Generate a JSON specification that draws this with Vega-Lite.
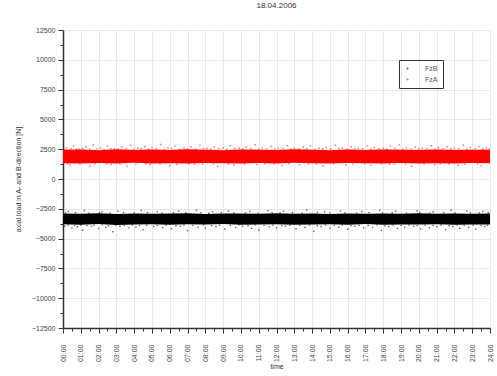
{
  "$schema": "https://vega.github.io/schema/vega-lite/v6.json",
  "width": 427,
  "height": 298,
  "autosize": {"type": "none"},
  "padding": {"left": 63, "top": 30, "right": 7, "bottom": 48},
  "background": "white",
  "title": {"text": "18.04.2006", "fontSize": 8, "fontWeight": "normal", "color": "#333", "font": "Liberation Sans", "offset": 16},
  "config": {"view": {"stroke": null}, "axis": {"labelFont": "Liberation Sans", "titleFont": "Liberation Sans", "labelColor": "#444", "titleColor": "#333", "labelFontSize": 7, "titleFontSize": 7, "titleFontWeight": "normal", "tickColor": "#333", "domainColor": "#333"}},
  "datasets": {
    "band": [
      {"s":"FzA","t":0,"lo":1320,"hi":2450},{"s":"FzA","t":1,"lo":1300,"hi":2480},{"s":"FzA","t":2,"lo":1340,"hi":2420},{"s":"FzA","t":3,"lo":1290,"hi":2500},{"s":"FzA","t":4,"lo":1360,"hi":2440},{"s":"FzA","t":5,"lo":1310,"hi":2470},{"s":"FzA","t":6,"lo":1330,"hi":2430},{"s":"FzA","t":7,"lo":1300,"hi":2490},{"s":"FzA","t":8,"lo":1350,"hi":2450},{"s":"FzA","t":9,"lo":1320,"hi":2420},{"s":"FzA","t":10,"lo":1290,"hi":2480},{"s":"FzA","t":11,"lo":1340,"hi":2460},{"s":"FzA","t":12,"lo":1310,"hi":2430},{"s":"FzA","t":13,"lo":1360,"hi":2490},{"s":"FzA","t":14,"lo":1320,"hi":2450},{"s":"FzA","t":15,"lo":1300,"hi":2420},{"s":"FzA","t":16,"lo":1340,"hi":2470},{"s":"FzA","t":17,"lo":1320,"hi":2440},{"s":"FzA","t":18,"lo":1290,"hi":2480},{"s":"FzA","t":19,"lo":1350,"hi":2450},{"s":"FzA","t":20,"lo":1310,"hi":2430},{"s":"FzA","t":21,"lo":1330,"hi":2470},{"s":"FzA","t":22,"lo":1300,"hi":2440},{"s":"FzA","t":23,"lo":1340,"hi":2460},{"s":"FzA","t":24,"lo":1320,"hi":2450},
      {"s":"FzB","t":0,"lo":-3800,"hi":-2900},{"s":"FzB","t":1,"lo":-3830,"hi":-2920},{"s":"FzB","t":2,"lo":-3780,"hi":-2880},{"s":"FzB","t":3,"lo":-3850,"hi":-2940},{"s":"FzB","t":4,"lo":-3810,"hi":-2890},{"s":"FzB","t":5,"lo":-3790,"hi":-2920},{"s":"FzB","t":6,"lo":-3840,"hi":-2900},{"s":"FzB","t":7,"lo":-3800,"hi":-2870},{"s":"FzB","t":8,"lo":-3820,"hi":-2930},{"s":"FzB","t":9,"lo":-3780,"hi":-2900},{"s":"FzB","t":10,"lo":-3830,"hi":-2890},{"s":"FzB","t":11,"lo":-3810,"hi":-2920},{"s":"FzB","t":12,"lo":-3790,"hi":-2880},{"s":"FzB","t":13,"lo":-3840,"hi":-2910},{"s":"FzB","t":14,"lo":-3820,"hi":-2900},{"s":"FzB","t":15,"lo":-3800,"hi":-2930},{"s":"FzB","t":16,"lo":-3830,"hi":-2890},{"s":"FzB","t":17,"lo":-3780,"hi":-2910},{"s":"FzB","t":18,"lo":-3840,"hi":-2900},{"s":"FzB","t":19,"lo":-3810,"hi":-2920},{"s":"FzB","t":20,"lo":-3820,"hi":-2880},{"s":"FzB","t":21,"lo":-3790,"hi":-2910},{"s":"FzB","t":22,"lo":-3830,"hi":-2900},{"s":"FzB","t":23,"lo":-3810,"hi":-2920},{"s":"FzB","t":24,"lo":-3820,"hi":-2900}
    ],
    "pts": [
      {"s":"FzA","t":0.2,"v":2620},{"s":"FzA","t":0.6,"v":2780},{"s":"FzA","t":0.9,"v":2550},{"s":"FzA","t":1.3,"v":2700},{"s":"FzA","t":1.7,"v":2880},{"s":"FzA","t":2.1,"v":2600},{"s":"FzA","t":2.5,"v":2750},{"s":"FzA","t":2.9,"v":2560},{"s":"FzA","t":3.3,"v":2690},{"s":"FzA","t":3.8,"v":2820},{"s":"FzA","t":4.2,"v":2580},{"s":"FzA","t":4.6,"v":2720},{"s":"FzA","t":5.0,"v":2650},{"s":"FzA","t":5.5,"v":2900},{"s":"FzA","t":5.9,"v":2600},{"s":"FzA","t":6.3,"v":2760},{"s":"FzA","t":6.8,"v":2580},{"s":"FzA","t":7.2,"v":2680},{"s":"FzA","t":7.7,"v":2840},{"s":"FzA","t":8.1,"v":2560},{"s":"FzA","t":8.5,"v":2700},{"s":"FzA","t":9.0,"v":2620},{"s":"FzA","t":9.4,"v":2790},{"s":"FzA","t":9.9,"v":2580},{"s":"FzA","t":10.3,"v":2660},{"s":"FzA","t":10.8,"v":2870},{"s":"FzA","t":11.2,"v":2590},{"s":"FzA","t":11.7,"v":2730},{"s":"FzA","t":12.1,"v":2610},{"s":"FzA","t":12.6,"v":2800},{"s":"FzA","t":13.0,"v":2570},{"s":"FzA","t":13.5,"v":2690},{"s":"FzA","t":13.9,"v":2760},{"s":"FzA","t":14.4,"v":2580},{"s":"FzA","t":14.8,"v":2650},{"s":"FzA","t":15.3,"v":2830},{"s":"FzA","t":15.7,"v":2600},{"s":"FzA","t":16.2,"v":2710},{"s":"FzA","t":16.6,"v":2560},{"s":"FzA","t":17.1,"v":2780},{"s":"FzA","t":17.5,"v":2640},{"s":"FzA","t":18.0,"v":2590},{"s":"FzA","t":18.4,"v":2740},{"s":"FzA","t":18.9,"v":2860},{"s":"FzA","t":19.3,"v":2600},{"s":"FzA","t":19.8,"v":2680},{"s":"FzA","t":20.2,"v":2570},{"s":"FzA","t":20.7,"v":2790},{"s":"FzA","t":21.1,"v":2620},{"s":"FzA","t":21.6,"v":2700},{"s":"FzA","t":22.0,"v":2560},{"s":"FzA","t":22.5,"v":2850},{"s":"FzA","t":22.9,"v":2640},{"s":"FzA","t":23.4,"v":2720},{"s":"FzA","t":23.8,"v":2590},
      {"s":"FzA","t":0.1,"v":2500},{"s":"FzA","t":0.45,"v":2540},{"s":"FzA","t":0.75,"v":2490},{"s":"FzA","t":1.1,"v":2560},{"s":"FzA","t":1.5,"v":2510},{"s":"FzA","t":1.9,"v":2530},{"s":"FzA","t":2.3,"v":2480},{"s":"FzA","t":2.7,"v":2550},{"s":"FzA","t":3.1,"v":2520},{"s":"FzA","t":3.55,"v":2570},{"s":"FzA","t":4.0,"v":2490},{"s":"FzA","t":4.4,"v":2540},{"s":"FzA","t":4.8,"v":2510},{"s":"FzA","t":5.25,"v":2560},{"s":"FzA","t":5.7,"v":2500},{"s":"FzA","t":6.1,"v":2530},{"s":"FzA","t":6.55,"v":2490},{"s":"FzA","t":7.0,"v":2550},{"s":"FzA","t":7.45,"v":2520},{"s":"FzA","t":7.9,"v":2570},{"s":"FzA","t":8.3,"v":2500},{"s":"FzA","t":8.75,"v":2540},{"s":"FzA","t":9.2,"v":2480},{"s":"FzA","t":9.65,"v":2560},{"s":"FzA","t":10.1,"v":2520},{"s":"FzA","t":10.55,"v":2540},{"s":"FzA","t":11.0,"v":2500},{"s":"FzA","t":11.45,"v":2550},{"s":"FzA","t":11.9,"v":2510},{"s":"FzA","t":12.35,"v":2570},{"s":"FzA","t":12.8,"v":2490},{"s":"FzA","t":13.25,"v":2530},{"s":"FzA","t":13.7,"v":2550},{"s":"FzA","t":14.15,"v":2500},{"s":"FzA","t":14.6,"v":2540},{"s":"FzA","t":15.05,"v":2510},{"s":"FzA","t":15.5,"v":2560},{"s":"FzA","t":15.95,"v":2490},{"s":"FzA","t":16.4,"v":2530},{"s":"FzA","t":16.85,"v":2550},{"s":"FzA","t":17.3,"v":2500},{"s":"FzA","t":17.75,"v":2540},{"s":"FzA","t":18.2,"v":2520},{"s":"FzA","t":18.65,"v":2560},{"s":"FzA","t":19.1,"v":2490},{"s":"FzA","t":19.55,"v":2530},{"s":"FzA","t":20.0,"v":2510},{"s":"FzA","t":20.45,"v":2550},{"s":"FzA","t":20.9,"v":2500},{"s":"FzA","t":21.35,"v":2570},{"s":"FzA","t":21.8,"v":2520},{"s":"FzA","t":22.25,"v":2540},{"s":"FzA","t":22.7,"v":2490},{"s":"FzA","t":23.15,"v":2550},{"s":"FzA","t":23.6,"v":2510},{"s":"FzA","t":23.95,"v":2530},
      {"s":"FzA","t":0.4,"v":1180},{"s":"FzA","t":1.5,"v":1100},{"s":"FzA","t":2.7,"v":1220},{"s":"FzA","t":3.6,"v":1080},{"s":"FzA","t":4.9,"v":1190},{"s":"FzA","t":6.0,"v":1130},{"s":"FzA","t":7.4,"v":1240},{"s":"FzA","t":8.7,"v":1060},{"s":"FzA","t":9.6,"v":1170},{"s":"FzA","t":10.9,"v":1210},{"s":"FzA","t":12.3,"v":1120},{"s":"FzA","t":13.3,"v":1200},{"s":"FzA","t":14.6,"v":1090},{"s":"FzA","t":15.9,"v":1180},{"s":"FzA","t":17.3,"v":1140},{"s":"FzA","t":18.6,"v":1230},{"s":"FzA","t":19.6,"v":1070},{"s":"FzA","t":20.9,"v":1190},{"s":"FzA","t":22.2,"v":1150},{"s":"FzA","t":23.5,"v":1100},
      {"s":"FzA","t":0.25,"v":1270},{"s":"FzA","t":0.95,"v":1250},{"s":"FzA","t":1.8,"v":1280},{"s":"FzA","t":2.45,"v":1240},{"s":"FzA","t":3.2,"v":1270},{"s":"FzA","t":4.1,"v":1250},{"s":"FzA","t":4.65,"v":1280},{"s":"FzA","t":5.45,"v":1260},{"s":"FzA","t":6.4,"v":1240},{"s":"FzA","t":7.1,"v":1270},{"s":"FzA","t":7.85,"v":1250},{"s":"FzA","t":8.45,"v":1280},{"s":"FzA","t":9.3,"v":1260},{"s":"FzA","t":10.2,"v":1240},{"s":"FzA","t":11.35,"v":1270},{"s":"FzA","t":11.85,"v":1250},{"s":"FzA","t":12.7,"v":1280},{"s":"FzA","t":13.8,"v":1260},{"s":"FzA","t":14.25,"v":1240},{"s":"FzA","t":15.2,"v":1270},{"s":"FzA","t":16.3,"v":1250},{"s":"FzA","t":16.95,"v":1280},{"s":"FzA","t":17.9,"v":1260},{"s":"FzA","t":18.35,"v":1240},{"s":"FzA","t":19.25,"v":1270},{"s":"FzA","t":20.3,"v":1250},{"s":"FzA","t":21.2,"v":1280},{"s":"FzA","t":21.7,"v":1260},{"s":"FzA","t":22.6,"v":1240},{"s":"FzA","t":23.3,"v":1270},
      {"s":"FzB","t":0.3,"v":-2720},{"s":"FzB","t":1.2,"v":-2660},{"s":"FzB","t":2.2,"v":-2760},{"s":"FzB","t":3.1,"v":-2700},{"s":"FzB","t":4.4,"v":-2640},{"s":"FzB","t":5.3,"v":-2740},{"s":"FzB","t":6.5,"v":-2690},{"s":"FzB","t":7.5,"v":-2620},{"s":"FzB","t":8.4,"v":-2750},{"s":"FzB","t":9.3,"v":-2680},{"s":"FzB","t":10.5,"v":-2730},{"s":"FzB","t":11.5,"v":-2650},{"s":"FzB","t":12.4,"v":-2710},{"s":"FzB","t":13.7,"v":-2600},{"s":"FzB","t":14.7,"v":-2740},{"s":"FzB","t":15.6,"v":-2670},{"s":"FzB","t":16.8,"v":-2720},{"s":"FzB","t":17.8,"v":-2640},{"s":"FzB","t":18.7,"v":-2700},{"s":"FzB","t":19.9,"v":-2660},{"s":"FzB","t":20.8,"v":-2750},{"s":"FzB","t":21.8,"v":-2620},{"s":"FzB","t":22.7,"v":-2690},{"s":"FzB","t":23.6,"v":-2730},
      {"s":"FzB","t":0.15,"v":-2850},{"s":"FzB","t":0.7,"v":-2820},{"s":"FzB","t":1.45,"v":-2860},{"s":"FzB","t":2.05,"v":-2830},{"s":"FzB","t":2.65,"v":-2870},{"s":"FzB","t":3.4,"v":-2810},{"s":"FzB","t":4.0,"v":-2850},{"s":"FzB","t":4.75,"v":-2830},{"s":"FzB","t":5.55,"v":-2860},{"s":"FzB","t":6.2,"v":-2820},{"s":"FzB","t":6.9,"v":-2850},{"s":"FzB","t":7.75,"v":-2830},{"s":"FzB","t":8.2,"v":-2870},{"s":"FzB","t":8.9,"v":-2810},{"s":"FzB","t":9.6,"v":-2850},{"s":"FzB","t":10.25,"v":-2830},{"s":"FzB","t":10.95,"v":-2860},{"s":"FzB","t":11.75,"v":-2820},{"s":"FzB","t":12.2,"v":-2850},{"s":"FzB","t":12.9,"v":-2830},{"s":"FzB","t":13.45,"v":-2870},{"s":"FzB","t":14.3,"v":-2810},{"s":"FzB","t":15.0,"v":-2850},{"s":"FzB","t":15.85,"v":-2830},{"s":"FzB","t":16.5,"v":-2860},{"s":"FzB","t":17.2,"v":-2820},{"s":"FzB","t":17.95,"v":-2850},{"s":"FzB","t":18.5,"v":-2830},{"s":"FzB","t":19.3,"v":-2870},{"s":"FzB","t":20.05,"v":-2810},{"s":"FzB","t":20.6,"v":-2850},{"s":"FzB","t":21.4,"v":-2830},{"s":"FzB","t":22.05,"v":-2860},{"s":"FzB","t":22.9,"v":-2820},{"s":"FzB","t":23.4,"v":-2850},{"s":"FzB","t":23.9,"v":-2830},
      {"s":"FzB","t":0.1,"v":-3950},{"s":"FzB","t":0.5,"v":-4120},{"s":"FzB","t":0.8,"v":-4010},{"s":"FzB","t":1.1,"v":-4300},{"s":"FzB","t":1.6,"v":-3980},{"s":"FzB","t":2.0,"v":-4150},{"s":"FzB","t":2.4,"v":-4050},{"s":"FzB","t":2.8,"v":-4420},{"s":"FzB","t":3.2,"v":-3970},{"s":"FzB","t":3.7,"v":-4100},{"s":"FzB","t":4.1,"v":-4020},{"s":"FzB","t":4.5,"v":-4250},{"s":"FzB","t":5.1,"v":-3990},{"s":"FzB","t":5.6,"v":-4080},{"s":"FzB","t":6.1,"v":-4180},{"s":"FzB","t":6.6,"v":-3960},{"s":"FzB","t":7.0,"v":-4330},{"s":"FzB","t":7.6,"v":-4040},{"s":"FzB","t":8.0,"v":-4110},{"s":"FzB","t":8.6,"v":-3980},{"s":"FzB","t":9.1,"v":-4200},{"s":"FzB","t":9.7,"v":-4060},{"s":"FzB","t":10.1,"v":-3970},{"s":"FzB","t":10.6,"v":-4140},{"s":"FzB","t":11.0,"v":-4280},{"s":"FzB","t":11.6,"v":-4010},{"s":"FzB","t":12.0,"v":-4090},{"s":"FzB","t":12.5,"v":-3960},{"s":"FzB","t":13.1,"v":-4170},{"s":"FzB","t":13.6,"v":-4050},{"s":"FzB","t":14.1,"v":-4380},{"s":"FzB","t":14.5,"v":-3990},{"s":"FzB","t":15.0,"v":-4120},{"s":"FzB","t":15.5,"v":-4030},{"s":"FzB","t":16.0,"v":-4220},{"s":"FzB","t":16.4,"v":-3970},{"s":"FzB","t":16.9,"v":-4100},{"s":"FzB","t":17.4,"v":-4060},{"s":"FzB","t":17.9,"v":-4310},{"s":"FzB","t":18.3,"v":-3990},{"s":"FzB","t":18.8,"v":-4150},{"s":"FzB","t":19.2,"v":-4040},{"s":"FzB","t":19.7,"v":-3970},{"s":"FzB","t":20.1,"v":-4190},{"s":"FzB","t":20.6,"v":-4080},{"s":"FzB","t":21.0,"v":-4010},{"s":"FzB","t":21.5,"v":-4260},{"s":"FzB","t":21.9,"v":-3980},{"s":"FzB","t":22.3,"v":-4130},{"s":"FzB","t":22.8,"v":-4050},{"s":"FzB","t":23.2,"v":-4200},{"s":"FzB","t":23.7,"v":-3990},
      {"s":"FzB","t":0.3,"v":-3870},{"s":"FzB","t":0.65,"v":-3900},{"s":"FzB","t":1.0,"v":-3860},{"s":"FzB","t":1.35,"v":-3910},{"s":"FzB","t":1.75,"v":-3880},{"s":"FzB","t":2.2,"v":-3850},{"s":"FzB","t":2.55,"v":-3920},{"s":"FzB","t":2.95,"v":-3870},{"s":"FzB","t":3.45,"v":-3890},{"s":"FzB","t":3.9,"v":-3860},{"s":"FzB","t":4.3,"v":-3910},{"s":"FzB","t":4.7,"v":-3880},{"s":"FzB","t":5.3,"v":-3900},{"s":"FzB","t":5.8,"v":-3860},{"s":"FzB","t":6.35,"v":-3920},{"s":"FzB","t":6.8,"v":-3870},{"s":"FzB","t":7.3,"v":-3890},{"s":"FzB","t":7.9,"v":-3860},{"s":"FzB","t":8.35,"v":-3910},{"s":"FzB","t":8.8,"v":-3880},{"s":"FzB","t":9.4,"v":-3900},{"s":"FzB","t":9.9,"v":-3850},{"s":"FzB","t":10.4,"v":-3920},{"s":"FzB","t":10.8,"v":-3870},{"s":"FzB","t":11.3,"v":-3890},{"s":"FzB","t":11.8,"v":-3860},{"s":"FzB","t":12.3,"v":-3910},{"s":"FzB","t":12.75,"v":-3880},{"s":"FzB","t":13.3,"v":-3900},{"s":"FzB","t":13.85,"v":-3860},{"s":"FzB","t":14.3,"v":-3920},{"s":"FzB","t":14.75,"v":-3870},{"s":"FzB","t":15.25,"v":-3890},{"s":"FzB","t":15.7,"v":-3860},{"s":"FzB","t":16.2,"v":-3910},{"s":"FzB","t":16.65,"v":-3880},{"s":"FzB","t":17.15,"v":-3900},{"s":"FzB","t":17.65,"v":-3850},{"s":"FzB","t":18.1,"v":-3920},{"s":"FzB","t":18.55,"v":-3870},{"s":"FzB","t":19.0,"v":-3890},{"s":"FzB","t":19.45,"v":-3860},{"s":"FzB","t":19.9,"v":-3910},{"s":"FzB","t":20.35,"v":-3880},{"s":"FzB","t":20.8,"v":-3900},{"s":"FzB","t":21.25,"v":-3860},{"s":"FzB","t":21.7,"v":-3920},{"s":"FzB","t":22.15,"v":-3870},{"s":"FzB","t":22.55,"v":-3890},{"s":"FzB","t":23.05,"v":-3860},{"s":"FzB","t":23.5,"v":-3910},{"s":"FzB","t":23.85,"v":-3880}
    ]
  },
  "resolve": {"axis": {"x": "independent", "y": "independent"}},
  "layer": [
    {
      "data": {"name": "band"},
      "mark": {"type": "area", "opacity": 1},
      "encoding": {
        "x": {"field": "t", "type": "quantitative", "scale": {"domain": [0, 24], "nice": false},
              "axis": {"orient": "bottom", "values": [0.5,1.5,2.5,3.5,4.5,5.5,6.5,7.5,8.5,9.5,10.5,11.5,12.5,13.5,14.5,15.5,16.5,17.5,18.5,19.5,20.5,21.5,22.5,23.5], "labels": false, "grid": false, "domain": false, "tickSize": 3, "title": null}},
        "y": {"field": "hi", "type": "quantitative", "scale": {"domain": [-12500, 12500], "nice": false},
              "axis": {"orient": "left", "values": [-11250,-8750,-6250,-3750,-1250,1250,3750,6250,8750,11250], "labels": false, "grid": false, "domain": false, "tickSize": 3, "title": null}},
        "y2": {"field": "lo"},
        "color": {"field": "s", "type": "nominal", "scale": {"domain": ["FzB", "FzA"], "range": ["#000000", "#ff0000"]},
                  "legend": {"orient": "none", "legendX": 336, "legendY": 30, "title": null, "strokeColor": "#333", "padding": 5, "labelFontSize": 7, "labelFont": "Liberation Sans", "labelColor": "#555", "symbolType": "circle", "symbolSize": 5, "symbolOpacity": 0.4, "rowPadding": 3, "labelOffset": 14}}
      }
    },
    {
      "data": {"name": "pts"},
      "mark": {"type": "square", "size": 2, "opacity": 0.6},
      "encoding": {
        "x": {"field": "t", "type": "quantitative", "scale": {"domain": [0, 24], "nice": false},
              "axis": {"orient": "bottom", "values": [0,1,2,3,4,5,6,7,8,9,10,11,12,13,14,15,16,17,18,19,20,21,22,23,24], "labelExpr": "(datum.value < 10 ? '0' : '') + datum.value + ':00'", "labelAngle": 270, "labelPadding": 11, "grid": true, "gridColor": "#e8e8e8", "domainWidth": 1.5, "tickSize": 5, "title": "time", "titlePadding": 1}},
        "y": {"field": "v", "type": "quantitative", "scale": {"domain": [-12500, 12500], "nice": false},
              "axis": {"orient": "left", "values": [-12500,-10000,-7500,-5000,-2500,0,2500,5000,7500,10000,12500], "format": "d", "grid": true, "gridColor": "#e8e8e8", "domainWidth": 1.5, "tickSize": 5, "labelPadding": 3, "title": "axial load in A- and B-direction [N]", "titlePadding": 10}},
        "color": {"field": "s", "type": "nominal", "scale": {"domain": ["FzB", "FzA"], "range": ["#000000", "#ff0000"]}}
      }
    }
  ]
}
